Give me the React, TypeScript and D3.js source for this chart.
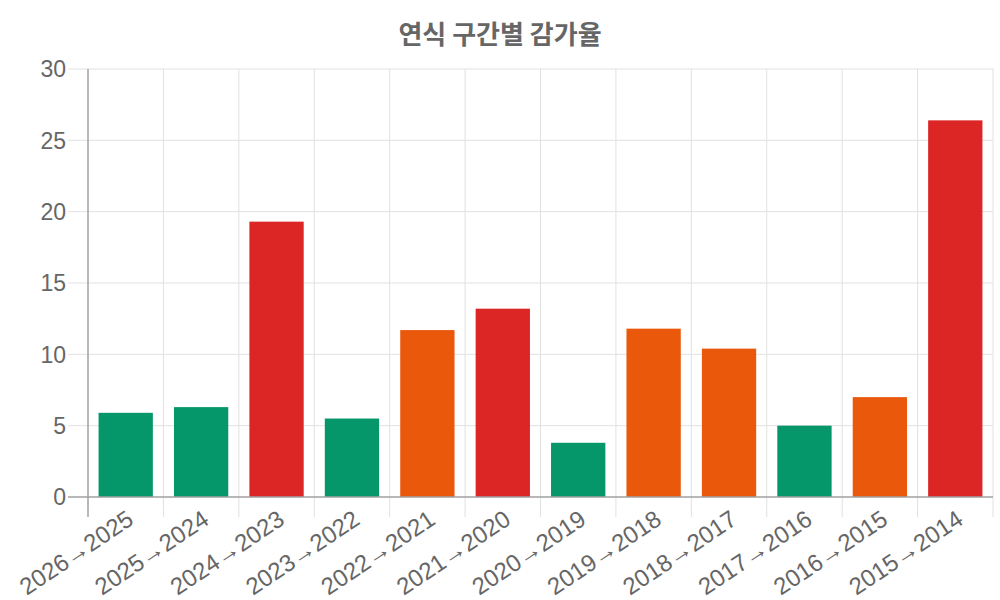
import React, { useRef, useEffect } from 'react';
import * as d3 from 'd3';

// --- data ---
const categories = [
    '2026→2025', '2025→2024', '2024→2023', '2023→2022', '2022→2021', '2021→2020',
    '2020→2019', '2019→2018', '2018→2017', '2017→2016', '2016→2015', '2015→2014',
];
const rates = [5.9, 6.3, 19.3, 5.5, 11.7, 13.2, 3.8, 11.8, 10.4, 5.0, 7.0, 26.4];
const yTicks = [0, 5, 10, 15, 20, 25, 30];
const title = '연식 구간별 감가율';

const colorFor = (v: number) => (v >= 13 ? '#dc2626' : v >= 7 ? '#ea580c' : '#059669');

const W = 1000, H = 600;
const margin = { top: 69, right: 7, bottom: 103, left: 88 };
const FONT = '"Liberation Sans", Arial, sans-serif';

const BarChart: React.FC = () => {
    const svgRef = useRef<SVGSVGElement>(null);

    useEffect(() => {
        if (!svgRef.current) return;
        const svg = d3.select(svgRef.current);
        svg.selectAll('*').remove();

        const x0 = margin.left, x1 = W - margin.right;
        const y0 = H - margin.bottom, y1 = margin.top;

        const x = d3.scaleBand<string>().domain(categories).range([x0, x1]).paddingInner(0).paddingOuter(0);
        const y = d3.scaleLinear().domain([0, 30]).range([y0, y1]);

        const grid = '#e1e1e1';
        const axisC = '#a0a0a0';
        const textC = '#666';

        // horizontal grid + ticks
        svg.append('g').selectAll('line')
            .data(yTicks.filter(t => t !== 0))
            .join('line')
            .attr('x1', x0 - 20).attr('x2', x1)
            .attr('y1', d => y(d)).attr('y2', d => y(d))
            .attr('stroke', grid).attr('stroke-width', 1);

        // vertical grid at category boundaries
        const bounds = categories.map(c => x(c)!).concat([x1]);
        svg.append('g').selectAll('line')
            .data(bounds.slice(1))
            .join('line')
            .attr('x1', d => d).attr('x2', d => d)
            .attr('y1', y1).attr('y2', y0 + 20)
            .attr('stroke', grid).attr('stroke-width', 1);

        // bars
        svg.append('g').selectAll('rect')
            .data(rates)
            .join('rect')
            .attr('x', (d, i) => x(categories[i])! + x.bandwidth() * 0.14)
            .attr('width', x.bandwidth() * 0.72)
            .attr('y', d => y(d))
            .attr('height', d => y(0) - y(d))
            .attr('fill', d => colorFor(d));

        // axes lines
        svg.append('line')
            .attr('x1', x0 - 20).attr('x2', x1).attr('y1', y0).attr('y2', y0)
            .attr('stroke', axisC).attr('stroke-width', 1.5);
        svg.append('line')
            .attr('x1', x0).attr('x2', x0).attr('y1', y1).attr('y2', y0 + 20)
            .attr('stroke', axisC).attr('stroke-width', 1.5);

        // y tick labels
        svg.append('g').selectAll('text')
            .data(yTicks)
            .join('text')
            .attr('x', x0 - 22)
            .attr('y', d => y(d))
            .attr('dy', '0.36em')
            .attr('text-anchor', 'end')
            .attr('font-family', FONT)
            .attr('font-size', 23)
            .attr('fill', textC)
            .text(d => d);

        // x tick labels (rotated)
        svg.append('g').selectAll('text')
            .data(categories)
            .join('text')
            .attr('transform', d => `translate(${x(d)! + x.bandwidth() / 2},${y0 + 12}) rotate(-34)`)
            .attr('dy', '0.7em')
            .attr('text-anchor', 'end')
            .attr('font-family', FONT)
            .attr('font-size', 24)
            .attr('fill', textC)
            .text(d => d);

        // title
        svg.append('text')
            .attr('x', W / 2)
            .attr('y', 35)
            .attr('dy', '0.35em')
            .attr('text-anchor', 'middle')
            .attr('font-family', '"Noto Sans CJK KR", "Liberation Sans", sans-serif')
            .attr('font-weight', 'bold')
            .attr('font-size', 26)
            .attr('fill', textC)
            .text(title);
    }, []);

    return <svg ref={svgRef} width={W} height={H} style={{ display: 'block', background: '#fff' }} />;
};

export default function App() {
    return (
        <div style={{ position: 'absolute', left: 0, top: 0, width: W, height: H, background: '#fff' }}>
            <BarChart />
        </div>
    );
}
